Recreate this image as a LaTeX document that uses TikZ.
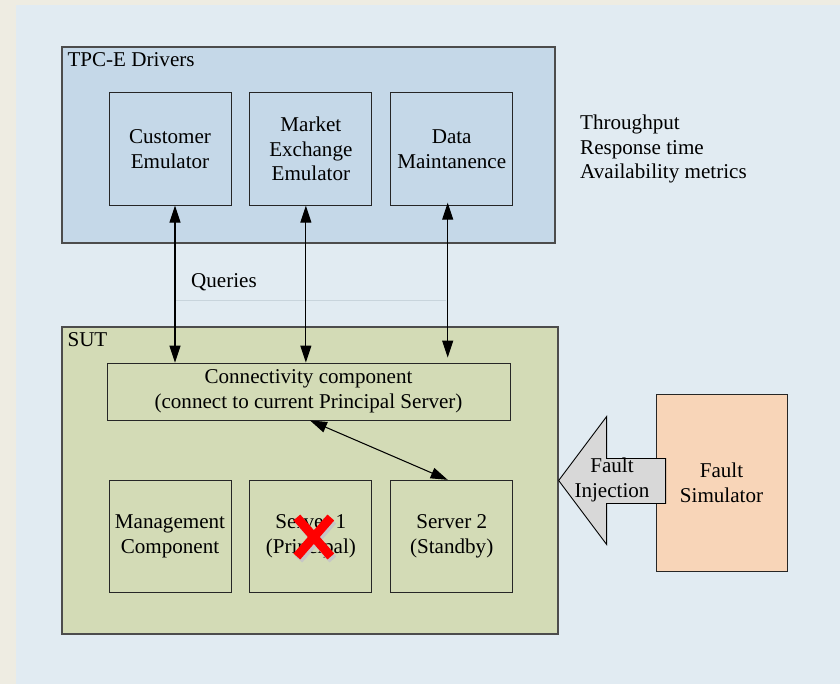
\documentclass[tikz,border=0pt]{standalone}
\usepackage{fontspec}
\setmainfont{Liberation Serif}
\usepackage{tikz}
\usetikzlibrary{arrows.meta,positioning,calc}
\definecolor{pagebg}{RGB}{238,236,226}
\definecolor{slidebg}{RGB}{225,235,242}
\definecolor{drvblue}{RGB}{197,216,232}
\definecolor{sutgreen}{RGB}{211,219,182}
\definecolor{faultpeach}{RGB}{248,213,184}
\definecolor{injgray}{RGB}{216,216,216}
\definecolor{faintline}{RGB}{200,212,220}

\begin{document}
\begin{tikzpicture}[x=0.02cm, y=-0.02cm, font=\fontsize{12}{14}\selectfont,
    group/.style={draw=black!70, line width=0.8pt, inner sep=0pt},
    block/.style={draw=black!85, line width=0.5pt, align=center, inner sep=0pt,
        minimum width=2.44cm, minimum height=2.25cm},
    arr/.style={{Triangle[length=3.4mm,width=2.2mm]}-{Triangle[length=3.4mm,width=2.2mm]}, line width=0.6pt},
    xmark/.style={line width=0.18cm}]

    % Background
    \fill[pagebg] (0,0) rectangle (840,684);
    \fill[slidebg] (16,5) rectangle (840,684);
    \useasboundingbox (0,0) rectangle (840,684);

    % Drivers
    \node[group, fill=drvblue, minimum width=9.86cm, minimum height=3.92cm] (drivers) at (308.5,145) {};
    \node[anchor=north west] (drvtitle) at (drivers.north west) {TPC-E Drivers};
    \node[block, fill=drvblue] (cust) at (170,149) {Customer\\Emulator};
    \node[block, fill=drvblue, right=0.36cm of cust] (market) {Market\\Exchange\\Emulator};
    \node[block, fill=drvblue, right=0.36cm of market] (maint) {Data\\Maintanence};

    % Metrics
    \node[anchor=west, align=left] (metrics) at (574,149) {Throughput\\Response time\\Availability metrics};

    % SUT
    \node[group, fill=sutgreen, minimum width=9.92cm, minimum height=6.14cm] (sut) at (310,480.5) {};
    \node[anchor=north west] (suttitle) at (sut.north west) {SUT};
    \node[draw=black!85, line width=0.5pt, fill=sutgreen, align=center,
        minimum width=8.06cm, minimum height=1.14cm] (conn) at (308.5,391.5)
        {Connectivity component\\(connect to current Principal Server)};
    \node[block, fill=sutgreen] (mgmt) at (170,536.5) {Management\\Component};
    \node[block, fill=sutgreen, right=0.36cm of mgmt] (srv1) {Server 1\\(Principal)};
    \node[block, fill=sutgreen, right=0.36cm of srv1] (srv2) {Server 2\\(Standby)};

    % Queries
    \draw[faintline, line width=0.4pt] (175,300) -- (446,300);
    \node[anchor=west] (queries) at (185,282) {Queries};
    \coordinate (q1) at ([xshift=1mm]cust.south);
    \coordinate (q2) at ([xshift=-1mm]market.south);
    \coordinate (q3) at ([xshift=-0.8mm, yshift=0.6mm]maint.south);
    \draw[arr] (q1) -- (q1 |- conn.north);
    \draw[arr] (q2) -- (q2 |- conn.north);
    \draw[arr] (q3) -- ([yshift=1mm]q3 |- conn.north);
    \draw[arr] ([xshift=0.3mm]conn.south) -- ([xshift=-0.8mm]srv2.north);

    % Fault simulator
    \node[draw=black!85, line width=0.5pt, fill=faultpeach, align=center,
        minimum width=2.62cm, minimum height=3.54cm] (sim) at (721.5,482.5) {Fault\\Simulator};

    % Injection arrow
    \draw[black, line width=0.5pt, fill=injgray] (sut.east) -- ++(48,-64) -- ++(0,42) -- ++(59,0)
        -- ++(0,45) -- ++(-59,0) -- ++(0,41) -- cycle;
    \node[align=center] (inj) at (612,480) {Fault\\Injection};

    % Failed server
    \draw[xmark, gray!45] ($(srv1.center)+(-12,-16)$) -- ++(34,39);
    \draw[xmark, gray!45] ($(srv1.center)+(22,-16)$) -- ++(-34,39);
    \draw[xmark, red] ($(srv1.center)+(-14,-19)$) -- ++(34,39);
    \draw[xmark, red] ($(srv1.center)+(20,-19)$) -- ++(-34,39);
\end{tikzpicture}
\end{document}
